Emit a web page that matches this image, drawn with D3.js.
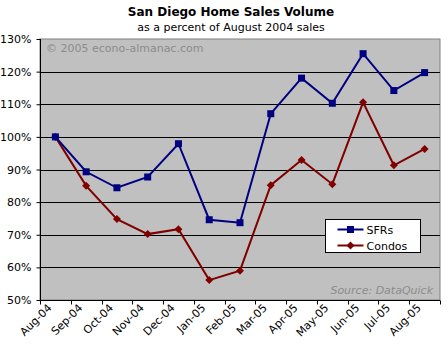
<!DOCTYPE html>
<html><head><meta charset="utf-8">
<script src="https://cdn.jsdelivr.net/npm/d3@7"></script>
<style>body{margin:0;background:#fff;}svg{display:block;}</style>
</head><body>
<script>
const months = ["Aug-04","Sep-04","Oct-04","Nov-04","Dec-04","Jan-05","Feb-05","Mar-05","Apr-05","May-05","Jun-05","Jul-05","Aug-05"];
const sfrs   = [100, 89.3, 84.4, 87.7, 97.9, 74.6, 73.7, 107.1, 118.0, 110.3, 125.5, 114.2, 119.7];
const condos = [100, 85.0, 74.8, 70.2, 71.7, 56.1, 59.0, 85.2, 92.9, 85.5, 110.6, 91.3, 96.3];
const yTicks = [50, 60, 70, 80, 90, 100, 110, 120, 130];
const seriesNames = ["SFRs", "Condos"];

const W = 448, H = 350;
const L = 40, R = 440, T = 39, B = 300;
const font = "Verdana, 'DejaVu Sans', sans-serif";

const svg = d3.select("body").append("svg").attr("width", W).attr("height", H);

const x = d3.scaleBand().domain(months).range([L, R]).padding(0);
const y = d3.scaleLinear().domain([50, 130]).range([B, T]);

// plot background
svg.append("rect").attr("x", L).attr("y", T).attr("width", R - L).attr("height", B - T)
  .attr("fill", "#c0c0c0").attr("stroke", "#808080").attr("stroke-width", 1);

// gridlines
svg.append("g").selectAll("line").data(yTicks.filter(d => d > 50 && d < 130)).join("line")
  .attr("x1", L).attr("x2", R)
  .attr("y1", d => Math.round(y(d)) + 0.5).attr("y2", d => Math.round(y(d)) + 0.5)
  .attr("stroke", "#000").attr("stroke-width", 1);

// y axis
const yAxis = d3.axisLeft(y).tickValues(yTicks).tickFormat(d => d + "%").tickSize(4).tickPadding(5);
const gy = svg.append("g").attr("transform", `translate(${L + 0.5},0)`).call(yAxis);
gy.selectAll("text").attr("font-family", font).attr("font-size", 11).attr("fill", "#000");
gy.selectAll("line,path").attr("stroke", "#000");
gy.select(".domain").attr("d", `M0,${T}V${B}`);

// x axis: ticks between categories
const xAxis = d3.axisBottom(x).tickSize(0).tickFormat("");
const gx = svg.append("g").attr("transform", `translate(0,${B + 0.5})`).call(xAxis);
gx.selectAll("line,path").attr("stroke", "#000");
gx.select(".domain").attr("d", `M${L},0H${R}`);
const boundaries = months.map(m => x(m)).concat([R]);
gx.append("g").selectAll("line").data(boundaries).join("line")
  .attr("x1", d => Math.round(d) + 0.5).attr("x2", d => Math.round(d) + 0.5)
  .attr("y1", 0).attr("y2", 4).attr("stroke", "#000");
gx.append("g").selectAll("text").data(months).join("text")
  .attr("font-family", font).attr("font-size", 11).attr("fill", "#000")
  .attr("text-anchor", "end")
  .attr("transform", d => `translate(${x(d) + x.bandwidth() / 2 - 3},${8}) rotate(-45)`)
  .text(d => d);

// watermark & source
svg.append("text").attr("x", L + 6).attr("y", T + 13).attr("font-family", font).attr("font-size", 11)
  .attr("fill", "#8c8c8c").text("© 2005 econo-almanac.com");
svg.append("text").attr("x", R - 7).attr("y", B - 6).attr("text-anchor", "end").attr("font-family", font)
  .attr("font-size", 11).attr("font-style", "italic").attr("fill", "#8c8c8c").text("Source: DataQuick");

// title
svg.append("text").attr("x", 231).attr("y", 16).attr("text-anchor", "middle").attr("font-family", font)
  .attr("font-size", 12).attr("font-weight", "bold").attr("fill", "#000").text("San Diego Home Sales Volume");
svg.append("text").attr("x", 231).attr("y", 31).attr("text-anchor", "middle").attr("font-family", font)
  .attr("font-size", 11).attr("fill", "#000").text("as a percent of August 2004 sales");

const cx = d => x(d) + x.bandwidth() / 2;
const line = d3.line().x(d => cx(d[0])).y(d => y(d[1]));
const series = [
  { name: seriesNames[0], values: sfrs, color: "#000080", marker: "square" },
  { name: seriesNames[1], values: condos, color: "#800000", marker: "diamond" }
];

function drawMarker(g, type, color) {
  if (type === "square") {
    g.append("rect").attr("x", -3.5).attr("y", -3.5).attr("width", 7).attr("height", 7).attr("fill", color);
  } else {
    g.append("path").attr("d", "M0,-4L4,0L0,4L-4,0Z").attr("fill", color);
  }
}

series.slice().reverse().forEach(s => {
  const pts = months.map((m, i) => [m, s.values[i]]);
  svg.append("path").datum(pts).attr("d", line).attr("fill", "none")
    .attr("stroke", s.color).attr("stroke-width", 2);
  pts.forEach(p => {
    const g = svg.append("g").attr("transform", `translate(${cx(p[0])},${y(p[1])})`);
    drawMarker(g, s.marker, s.color);
  });
});

// legend
const lg = svg.append("g").attr("transform", "translate(325.5,219.5)");
lg.append("rect").attr("width", 95).attr("height", 33).attr("fill", "#fff").attr("stroke", "#000");
series.forEach((s, i) => {
  const yy = 10 + i * 16;
  lg.append("line").attr("x1", 12).attr("x2", 38).attr("y1", yy).attr("y2", yy).attr("stroke", s.color).attr("stroke-width", 2);
  const g = lg.append("g").attr("transform", `translate(25,${yy})`);
  drawMarker(g, s.marker, s.color);
  lg.append("text").attr("x", 41).attr("y", yy + 4).attr("font-family", font).attr("font-size", 11)
    .attr("fill", "#000").text(s.name);
});
</script>
</body></html>
